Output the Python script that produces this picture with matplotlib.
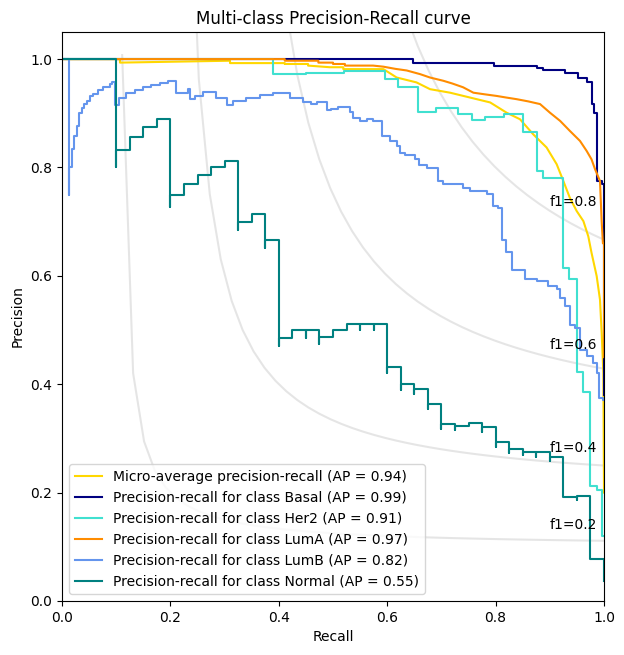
import numpy as np
import matplotlib
matplotlib.use("Agg")
import matplotlib.pyplot as plt

# iso-f1 guide levels
f_scores = [0.2, 0.4, 0.6, 0.8]

# micro-average
recall_micro = [0, 0.107, 0.107, 0.31, 0.31, 0.411, 0.411, 0.454, 0.454, 0.494, 0.519, 0.519,
                0.593, 0.6175, 0.654, 0.679, 0.716, 0.753, 0.79, 0.8205, 0.845, 0.8696, 0.894,
                0.9127, 0.925, 0.937, 0.9496, 0.962, 0.971, 0.977, 0.9865, 0.9926, 0.9957, 0.9988, 1.0]
precision_micro = [1.0, 1.0, 0.9935, 0.997, 0.9926, 0.9926, 0.991, 0.991, 0.988, 0.985, 0.985, 0.9815,
                   0.9815, 0.966, 0.957, 0.9445, 0.938, 0.929, 0.920, 0.901, 0.889, 0.861, 0.837,
                   0.806, 0.775, 0.744, 0.7196, 0.701, 0.673, 0.6425, 0.5995, 0.556, 0.495, 0.421, 0.2]

# Basal
recall_basal = [0, 0.647, 0.797, 0.876, 0.888, 0.928, 0.9526, 0.968, 0.977, 0.982, 0.9865, 0.9957, 1.0, 1.0]
precision_basal = [1.0, 1.0, 0.9935, 0.9877, 0.983, 0.980, 0.974, 0.966, 0.958, 0.917, 0.901, 0.775, 0.769, 0.38]

# Her2
recall_her2 = [0, 0.39, 0.45, 0.52, 0.596, 0.6205, 0.657, 0.69, 0.731, 0.756, 0.78, 0.815, 0.851,
               0.877, 0.888, 0.925, 0.936, 0.951, 0.962, 0.974, 0.9865, 0.9957, 1.0]
precision_her2 = [1.0, 1.0, 0.972, 0.975, 0.978, 0.963, 0.949, 0.903, 0.910, 0.898, 0.887, 0.893, 0.8996,
                  0.866, 0.7935, 0.780, 0.615, 0.595, 0.4227, 0.385, 0.213, 0.205, 0.12]

# LumA
recall_luma = [0, 0.411, 0.411, 0.473, 0.473, 0.5, 0.5, 0.522, 0.522, 0.574, 0.593, 0.615, 0.636,
               0.6605, 0.679, 0.7035, 0.72, 0.740, 0.759, 0.78, 0.802, 0.82, 0.839, 0.86, 0.882,
               0.9004, 0.919, 0.937, 0.9557, 0.968, 0.977, 0.9834, 0.9926, 0.9957, 0.998, 1.0, 1.0]
precision_luma = [1.0, 1.0, 0.997, 0.997, 0.9935, 0.9935, 0.991, 0.991, 0.988, 0.988, 0.986, 0.982, 0.979,
                  0.9723, 0.966, 0.960, 0.955, 0.948, 0.938, 0.935, 0.932, 0.929, 0.926, 0.922, 0.917,
                  0.901, 0.886, 0.8675, 0.849, 0.8305, 0.815, 0.797, 0.775, 0.70, 0.66, 0.66, 0.45]

# LumB
recall_lumb = [0, 0.013, 0.013, 0.018, 0.022, 0.027, 0.031, 0.036, 0.041, 0.046, 0.052, 0.058, 0.067,
               0.076, 0.089, 0.093, 0.098, 0.105, 0.119, 0.135, 0.15, 0.165, 0.181, 0.195, 0.21,
               0.232, 0.236, 0.245, 0.26, 0.285, 0.304, 0.315, 0.34, 0.365, 0.39, 0.4207, 0.445,
               0.459, 0.47, 0.4895, 0.496, 0.51, 0.531, 0.5375, 0.55, 0.562, 0.574, 0.59, 0.605,
               0.6175, 0.6236, 0.633, 0.651, 0.659, 0.673, 0.694, 0.7035, 0.74, 0.753, 0.7835, 0.796,
               0.805, 0.811, 0.820, 0.8297, 0.854, 0.876, 0.897, 0.9127, 0.919, 0.928, 0.937, 0.9465,
               0.9557, 0.968, 0.980, 0.9865, 0.9914, 0.998, 1.0]
precision_lumb = [1.0, 1.0, 0.75, 0.801, 0.835, 0.858, 0.876, 0.901, 0.909, 0.918, 0.923, 0.931, 0.935,
                  0.943, 0.949, 0.954, 0.957, 0.916, 0.929, 0.937, 0.943, 0.948, 0.9525, 0.956, 0.960,
                  0.938, 0.944, 0.926, 0.931, 0.940, 0.929, 0.9155, 0.923, 0.929, 0.934, 0.938, 0.929,
                  0.921, 0.9175, 0.921, 0.906, 0.908, 0.912, 0.9015, 0.892, 0.886, 0.890, 0.886, 0.858,
                  0.849, 0.840, 0.8275, 0.8226, 0.8164, 0.804, 0.7985, 0.775, 0.769, 0.763, 0.757, 0.7505,
                  0.729, 0.726, 0.667, 0.644, 0.6105, 0.595, 0.590, 0.581, 0.575, 0.5595, 0.544, 0.510,
                  0.504, 0.464, 0.4516, 0.4393, 0.421, 0.375, 0.37]

# Normal
recall_normal = [0, 0.1, 0.1, 0.125, 0.15, 0.175, 0.2, 0.2, 0.225, 0.25, 0.275, 0.3, 0.325, 0.325,
                 0.35, 0.375, 0.375, 0.4, 0.4, 0.425, 0.45, 0.45, 0.475, 0.475, 0.5, 0.525, 0.55, 0.55,
                 0.575, 0.575, 0.6, 0.6, 0.625, 0.625, 0.65, 0.65, 0.675, 0.675, 0.7, 0.7, 0.725, 0.725,
                 0.75, 0.775, 0.775, 0.8, 0.8, 0.825, 0.825, 0.85, 0.85, 0.875, 0.875, 0.9, 0.9, 0.925,
                 0.95, 0.95, 0.975, 1.0, 1.0]
precision_normal = [1.0, 1.0, 0.80, 0.833, 0.857, 0.875, 0.889, 0.727, 0.75, 0.769, 0.786, 0.80, 0.8125, 0.684,
                    0.70, 0.714, 0.652, 0.667, 0.47, 0.486, 0.5, 0.486, 0.5, 0.475, 0.488, 0.5, 0.512, 0.5,
                    0.511, 0.5, 0.511, 0.421, 0.431, 0.39, 0.40, 0.382, 0.391, 0.355, 0.3635, 0.318, 0.326, 0.315,
                    0.3235, 0.329, 0.312, 0.3205, 0.285, 0.293, 0.273, 0.281, 0.269, 0.2745, 0.266, 0.2745, 0.2575, 0.265,
                    0.192, 0.187, 0.193, 0.077, 0.037]

fig = plt.figure(figsize=(6.24, 6.55), dpi=100)
ax = fig.add_axes([62 / 624, 54 / 655, 542 / 624, 569 / 655])

for f_score in f_scores:
    x = np.linspace(0.01, 1)
    y = f_score * x / (2 * x - f_score)
    ax.plot(x[y >= 0], y[y >= 0], color="gray", alpha=0.2)
    ax.annotate("f1={0:0.1f}".format(f_score), xy=(0.9, y[45] + 0.02))

ax.plot(recall_micro, precision_micro, color="gold", lw=1.5,
        label="Micro-average precision-recall (AP = 0.94)")
ax.plot(recall_basal, precision_basal, color="navy", lw=1.5, drawstyle="steps-pre",
        label="Precision-recall for class Basal (AP = 0.99)")
ax.plot(recall_her2, precision_her2, color="turquoise", lw=1.5, drawstyle="steps-pre",
        label="Precision-recall for class Her2 (AP = 0.91)")
ax.plot(recall_luma, precision_luma, color="darkorange", lw=1.5,
        label="Precision-recall for class LumA (AP = 0.97)")
ax.plot(recall_lumb, precision_lumb, color="cornflowerblue", lw=1.5, drawstyle="steps-pre",
        label="Precision-recall for class LumB (AP = 0.82)")
ax.plot(recall_normal, precision_normal, color="teal", lw=1.5, drawstyle="steps-pre",
        label="Precision-recall for class Normal (AP = 0.55)")

ax.set_xlim([0.0, 1.0])
ax.set_ylim([0.0, 1.05])
ax.set_xlabel("Recall")
ax.set_ylabel("Precision")
ax.set_title("Multi-class Precision-Recall curve")
ax.legend(loc="lower left")

plt.savefig("out.png", dpi=100)
